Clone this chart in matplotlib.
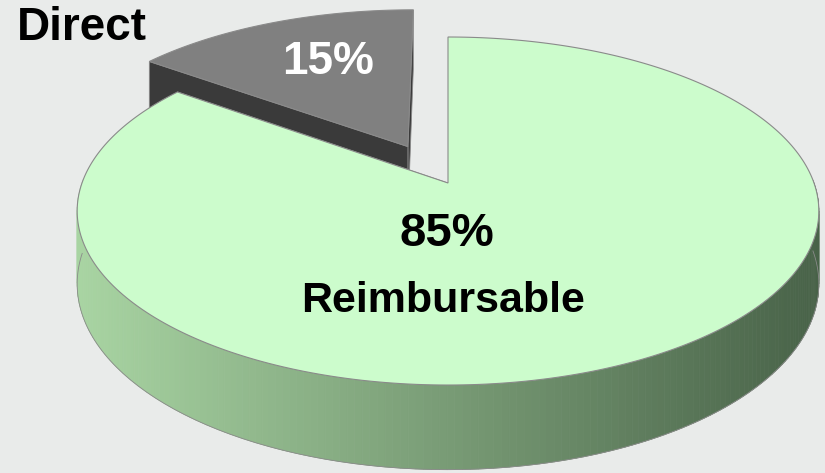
import numpy as np
import matplotlib
matplotlib.use("Agg")
import matplotlib.pyplot as plt
from matplotlib.patches import Polygon
from matplotlib import font_manager

# ---- data ----
labels = ["Direct", "Reimbursable"]
shares = [15, 85]
top_colors = ["#808080", "#ccfccc"]
label_texts = ["15%", "85%\nReimbursable"]

# ---- geometry (pixel-like axes) ----
W, H = 825, 473
cx, cy = 448, 183       # projected pie centre
A, B = 366, 169.5       # horizontal / depth radii
k = 0.161               # perspective factor
D = 71                  # thickness
explode = [0.25, 0.0]
start_angle = 90.0

def proj(u, v, z=0.0):
    w = 1 + k * v
    return cx + A * u / w, cy - B * v / w + D * z / w

fig = plt.figure(figsize=(W / 100, H / 100), dpi=100)
fig.patch.set_facecolor("#e9ebea")
ax = fig.add_axes([0, 0, 1, 1])
ax.set_xlim(0, W)
ax.set_ylim(H, 0)
ax.axis("off")
ax.set_facecolor("#e9ebea")

names = [f.name for f in font_manager.fontManager.ttflist]
narrow = "Liberation Sans Narrow" if "Liberation Sans Narrow" in names else None

# angles
total = sum(shares)
bounds = []
a0 = start_angle
for s in shares:
    a1 = a0 + 360.0 * s / total
    bounds.append((a0, a1))
    a0 = a1

edge = "#8a8a8a"

def draw_slice(i, side_cmap, radial_color, z0):
    t0, t1 = bounds[i]
    mid = np.radians((t0 + t1) / 2)
    ou, ov = explode[i] * np.cos(mid), explode[i] * np.sin(mid)
    th = np.radians(np.linspace(t0, t1, 300))
    us, vs = ou + np.cos(th), ov + np.sin(th)
    # radial faces
    for t in (t0, t1):
        r = np.radians(t)
        pu, pv = ou + np.cos(r), ov + np.sin(r)
        pts = [proj(ou, ov, 0), proj(pu, pv, 0), proj(pu, pv, 1), proj(ou, ov, 1)]
        ax.add_patch(Polygon(pts, closed=True, fc=radial_color, ec=edge, lw=0.6, zorder=z0))
    # outer side: front-facing segments
    for j in range(len(th) - 1):
        tm = 0.5 * (th[j] + th[j + 1])
        if np.sin(tm) < 0.02:
            p1 = proj(us[j], vs[j], 0); p2 = proj(us[j + 1], vs[j + 1], 0)
            p3 = proj(us[j + 1], vs[j + 1], 1); p4 = proj(us[j], vs[j], 1)
            xm = 0.5 * (p1[0] + p2[0])
            col = side_cmap(xm)
            ax.add_patch(Polygon([p1, p2, p3, p4], closed=True, fc=col, ec=col, lw=0.5, zorder=z0 + 1))
    # silhouette of outer side bottom
    front = np.sin(th) < 0.02
    if front.any():
        bx, by = zip(*[proj(u, v, 1) for u, v in zip(us[front], vs[front])])
        ax.plot(bx, by, color=edge, lw=0.6, zorder=z0 + 2)
    # top face
    pts = [proj(ou, ov, 0)] + [proj(u, v, 0) for u, v in zip(us, vs)]
    ax.add_patch(Polygon(pts, closed=True, fc=top_colors[i], ec=edge, lw=0.8, zorder=z0 + 3))
    return ou, ov

def green_side(x):
    t = np.clip((x - 80) / (820 - 80), 0, 1)
    c0 = np.array([168, 212, 162]) / 255
    c1 = np.array([72, 98, 72]) / 255
    return tuple(c0 + (c1 - c0) * t)

def gray_side(x):
    return "#3a3a3a"

draw_slice(0, gray_side, "#3a3a3a", 1)
draw_slice(1, green_side, "#3f5a3f", 10)

# labels
ax.text(82, 28, labels[0], fontsize=33, fontweight="bold", color="black",
        family="Liberation Sans", ha="center", va="center", zorder=20)
ax.text(328, 62, label_texts[0], fontsize=33, fontweight="bold", color="white",
        family="Liberation Sans", ha="center", va="center", zorder=20)
l1, l2 = label_texts[1].split("\n")
if narrow:
    f1, f2, fam = 38, 37, narrow
else:
    f1, f2, fam = 34, 31, "Liberation Sans"
ax.text(447, 234, l1, fontsize=f1, fontweight="bold", color="black",
        family=fam, ha="center", va="center", zorder=20)
ax.text(443, 301, l2, fontsize=f2, fontweight="bold", color="black",
        family=fam, ha="center", va="center", zorder=20)

fig.savefig("out.png", dpi=100, facecolor=fig.get_facecolor())
